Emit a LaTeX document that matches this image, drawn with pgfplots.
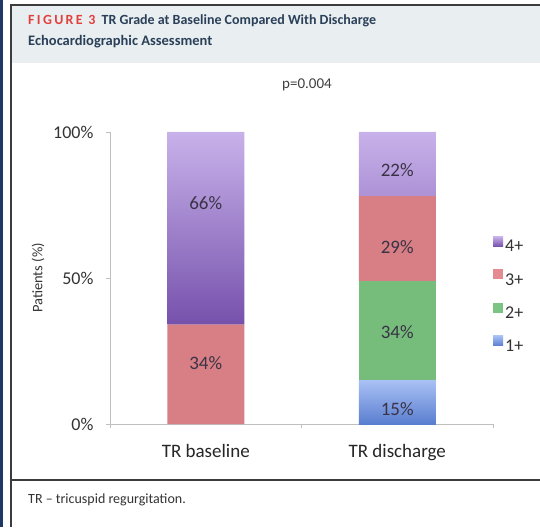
\documentclass[border=0pt]{standalone}
\usepackage{pgfplots}
\pgfplotsset{compat=1.18}
\usepackage{fontspec}
\setmainfont{Carlito}
\definecolor{navy}{HTML}{1E3764}
\definecolor{headbg}{HTML}{E9EFF1}
\definecolor{framec}{HTML}{3C3C3C}
\definecolor{titlec}{HTML}{2A3F58}
\definecolor{figred}{HTML}{E2403C}
\definecolor{axisgray}{HTML}{BFBFBF}
\definecolor{labc}{HTML}{3A3346}
\definecolor{fourtop}{HTML}{C8B2EA}
\definecolor{fourbot}{HTML}{7651AC}
\definecolor{three}{HTML}{D77F84}
\definecolor{two}{HTML}{76BD7C}
\definecolor{onetop}{HTML}{A9C1F4}
\definecolor{onebot}{HTML}{5A7ED0}
\definecolor{legfour}{HTML}{8E6CC4}
\definecolor{legthree}{HTML}{E38B91}
\definecolor{legtwo}{HTML}{7CC483}
\definecolor{legone}{HTML}{6F8FDF}
\begin{document}
\begin{tikzpicture}[x=1pt,y=1pt]
\path[use as bounding box] (0,0) rectangle (540,527);
\fill[white] (0,0) rectangle (540,527);
\fill[navy] (0,0) rectangle (3,527);
\fill[headbg] (11,464) rectangle (540,522);
\draw[framec, line width=1.6pt] (11,0) -- (11,522) -- (540,522);
\draw[framec, line width=1.6pt] (11,47) -- (540,47);
\node[anchor=base west, inner sep=0, font=\bfseries\fontsize{14}{16}\selectfont, text=titlec] at (28,502)
  {\textcolor{figred}{F\,I\,G\,U\,R\,E\,\ 3}\ \ TR Grade at Baseline Compared With Discharge};
\node[anchor=base west, inner sep=0, font=\bfseries\fontsize{14.5}{16}\selectfont, text=titlec] at (28,481)
  {Echocardiographic Assessment};
\node[anchor=center, inner sep=0, font=\fontsize{15}{17}\selectfont, text=black!75] at (307,442) {p=0.004};
\node[anchor=base west, inner sep=0, font=\fontsize{14}{16}\selectfont, text=black!80] at (28,24)
  {TR -- tricuspid regurgitation.};

\begin{axis}[
  at={(110pt,103pt)}, anchor=south west,
  scale only axis, width=383pt, height=292pt,
  xmin=-0.5, xmax=1.5, ymin=0, ymax=100,
  ybar stacked, bar width=77pt,
  axis x line*=bottom, axis y line*=left,
  axis line style={-, draw=axisgray, line width=0.9pt},
  tick style={draw=axisgray, line width=0.9pt},
  tick align=outside, major tick length=4pt,
  ytick={0,50,100}, yticklabels={0\%,50\%,100\%},
  yticklabel style={font=\fontsize{18}{20}\selectfont, text=black!80, xshift=-9pt},
  xtick={-0.5,0.5,1.5}, xticklabels={,,},
  extra x ticks={0,1}, extra x tick labels={TR baseline,TR discharge},
  extra x tick style={major tick length=0pt, tick style={draw=none},
    xticklabel style={font=\fontsize{19}{21}\selectfont, text=black!85, yshift=-17pt}},
  ylabel={Patients (\%)},
  ylabel style={at={(axis description cs:-0.188,0.5)}, anchor=center, font=\fontsize{14.5}{16}\selectfont, text=black!80},
  legend style={at={(1.0,0.643)}, anchor=north west, draw=none, fill=none, inner sep=0pt,
    font=\fontsize{18}{20}\selectfont, text=black!80, row sep=14pt,
    /tikz/every even column/.append style={column sep=3pt}},
  legend cell align=left, reverse legend,
]
\addplot[draw=none, shading=axis, top color=onetop, bottom color=onebot,
  legend image code/.code={\fill[legone] (0pt,0.5pt) rectangle (10pt,10.5pt);}]
  coordinates {(0,0) (1,15)};
\addplot[draw=none, fill=two,
  legend image code/.code={\fill[legtwo] (0pt,0.5pt) rectangle (10pt,10.5pt);}]
  coordinates {(0,0) (1,34)};
\addplot[draw=none, fill=three,
  legend image code/.code={\fill[legthree] (0pt,0.5pt) rectangle (10pt,10.5pt);}]
  coordinates {(0,34) (1,29)};
\addplot[draw=none, shading=axis, top color=fourtop, bottom color=fourbot,
  legend image code/.code={\fill[legfour] (0pt,0.5pt) rectangle (10pt,10.5pt);}]
  coordinates {(0,66) (1,22)};
\legend{1+,2+,3+,4+}
\end{axis}

\begin{axis}[
  at={(110pt,103pt)}, anchor=south west,
  scale only axis, width=383pt, height=292pt,
  xmin=-0.5, xmax=1.5, ymin=0, ymax=100,
  hide axis,
]
\addplot[draw=none, mark=none, nodes near coords, point meta=explicit symbolic,
  every node near coord/.append style={anchor=center, font=\fontsize{19}{21}\selectfont, text=labc}]
  coordinates {(0,21)[34\%] (0,75.5)[66\%] (1,5)[15\%] (1,31.5)[34\%] (1,60.5)[29\%] (1,87)[22\%]};
\end{axis}
\end{tikzpicture}
\end{document}
